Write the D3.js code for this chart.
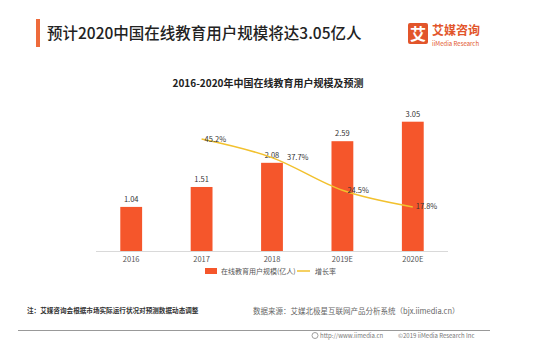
<!DOCTYPE html>
<html lang="zh-CN">
<head>
  <meta charset="UTF-8" />
  <title>中国在线教育用户规模</title>
  <script src="https://cdn.jsdelivr.net/npm/d3@7/dist/d3.min.js"></script>
  <style>
    html, body { margin: 0; padding: 0; background: #fff; }
    svg { display: block; font-family: "Noto Sans CJK SC", "Noto Sans", sans-serif; }
  </style>
</head>
<body>
  <div id="chart"></div>
  <script>
    // 数据
    const years = ["2016", "2017", "2018", "2019E", "2020E"];
    const users = [1.04, 1.51, 2.08, 2.59, 3.05];          // 亿人
    const growthYears = ["2017", "2018", "2019E", "2020E"];
    const growth = [45.2, 37.7, 24.5, 17.8];                // %

    const W = 553, H = 350;
    const barColor = "#F5562B";
    const lineColor = "#F2C12E";
    const orange = "#E2552B";

    const svg = d3.select("#chart").append("svg")
      .attr("width", W).attr("height", H);

    // 标题
    svg.append("rect").attr("x", 36).attr("y", 19).attr("width", 4).attr("height", 28).attr("fill", "#EE6B3B");
    svg.append("text").attr("x", 47).attr("y", 39)
      .attr("font-size", 15.5).attr("font-weight", 500).attr("fill", "#222")
      .text("预计2020中国在线教育用户规模将达3.05亿人");

    // logo
    svg.append("rect").attr("x", 408).attr("y", 23).attr("width", 20).attr("height", 21).attr("rx", 2).attr("fill", orange);
    svg.append("text").attr("x", 418).attr("y", 39.5).attr("text-anchor", "middle")
      .attr("font-size", 16).attr("font-weight", 700).attr("fill", "#fff").text("艾");
    svg.append("text").attr("x", 432).attr("y", 35)
      .attr("font-size", 12).attr("font-weight", 700).attr("fill", orange).text("艾媒咨询");
    svg.append("text").attr("x", 432).attr("y", 45.5)
      .attr("font-size", 6).attr("fill", orange).text("iiMedia Research");

    // 副标题
    svg.append("text").attr("x", 268).attr("y", 86.5).attr("text-anchor", "middle")
      .attr("font-size", 10).attr("font-weight", 700).attr("fill", "#222")
      .text("2016-2020年中国在线教育用户规模及预测");

    // 比例尺
    const x = d3.scaleBand().domain(years).range([96, 448]).paddingInner(0.69).paddingOuter(0.345);
    const y = d3.scaleLinear().domain([0, 3.05]).range([251, 121.7]);
    const y2 = d3.scaleLinear().domain([0, 45.2]).range([251, 139]);

    // 坐标轴
    svg.append("line").attr("x1", 96).attr("x2", 448).attr("y1", 251.5).attr("y2", 251.5)
      .attr("stroke", "#d9d9d9").attr("stroke-width", 1);

    const xAxis = svg.append("g").attr("transform", "translate(0,251)")
      .call(d3.axisBottom(x).tickSize(0).tickPadding(6));
    xAxis.select(".domain").remove();
    xAxis.selectAll("text").attr("font-size", 7.5).attr("fill", "#555")
      .attr("font-family", "'Noto Sans CJK SC', sans-serif");

    // 柱
    svg.append("g").selectAll("rect").data(years).join("rect")
      .attr("x", d => x(d))
      .attr("width", x.bandwidth())
      .attr("y", (d, i) => y(users[i]))
      .attr("height", (d, i) => y(0) - y(users[i]))
      .attr("fill", barColor);

    svg.append("g").selectAll("text").data(years).join("text")
      .attr("x", d => x(d) + x.bandwidth() / 2)
      .attr("y", (d, i) => y(users[i]) - 5)
      .attr("text-anchor", "middle")
      .attr("font-size", 7.5).attr("fill", "#333")
      .text((d, i) => users[i].toFixed(2));

    // 增长率折线
    const pts = growthYears.map((d, i) => [x(d) + x.bandwidth() / 2, y2(growth[i])]);
    svg.append("path")
      .attr("d", d3.line().curve(d3.curveMonotoneX)(pts))
      .attr("fill", "none").attr("stroke", lineColor).attr("stroke-width", 1.5);

    const lblDx = [3, 15, 5, 3];
    svg.append("g").selectAll("text").data(growthYears).join("text")
      .attr("x", (d, i) => pts[i][0] + lblDx[i])
      .attr("y", (d, i) => pts[i][1] + 2.5)
      .attr("font-size", 7.5).attr("fill", "#333")
      .text((d, i) => growth[i].toFixed(1) + "%");

    // 图例
    const lg = svg.append("g").attr("transform", "translate(205,271)");
    lg.append("rect").attr("x", 0).attr("y", -3).attr("width", 12).attr("height", 6).attr("fill", barColor);
    lg.append("text").attr("x", 16).attr("y", 2.5).attr("font-size", 7).attr("fill", "#555").text("在线教育用户规模(亿人)");
    lg.append("line").attr("x1", 92).attr("x2", 105).attr("y1", 0).attr("y2", 0)
      .attr("stroke", lineColor).attr("stroke-width", 1.5);
    lg.append("text").attr("x", 110).attr("y", 2.5).attr("font-size", 7).attr("fill", "#555").text("增长率");

    // 注释与来源
    svg.append("text").attr("x", 27).attr("y", 313)
      .attr("font-size", 6.6).attr("font-weight", 700).attr("fill", "#333")
      .text("注：艾媒咨询会根据市场实际运行状况对预测数据动态调整");
    svg.append("text").attr("x", 253).attr("y", 314)
      .attr("font-size", 7.5).attr("fill", "#666")
      .text("数据来源：艾媒北极星互联网产品分析系统（bjx.iimedia.cn）");
    svg.append("line").attr("x1", 18).attr("x2", 490).attr("y1", 330.5).attr("y2", 330.5)
      .attr("stroke", "#999").attr("stroke-width", 1);

    svg.append("circle").attr("cx", 315).attr("cy", 335.5).attr("r", 3).attr("fill", "none").attr("stroke", "#888").attr("stroke-width", 0.8);
    svg.append("text").attr("x", 320).attr("y", 338)
      .attr("font-size", 6).attr("fill", "#777").text("http://www.iimedia.cn");
    svg.append("text").attr("x", 398).attr("y", 338)
      .attr("font-size", 6).attr("fill", "#777").text("©2019  iiMedia Research  Inc");
  </script>
</body>
</html>
